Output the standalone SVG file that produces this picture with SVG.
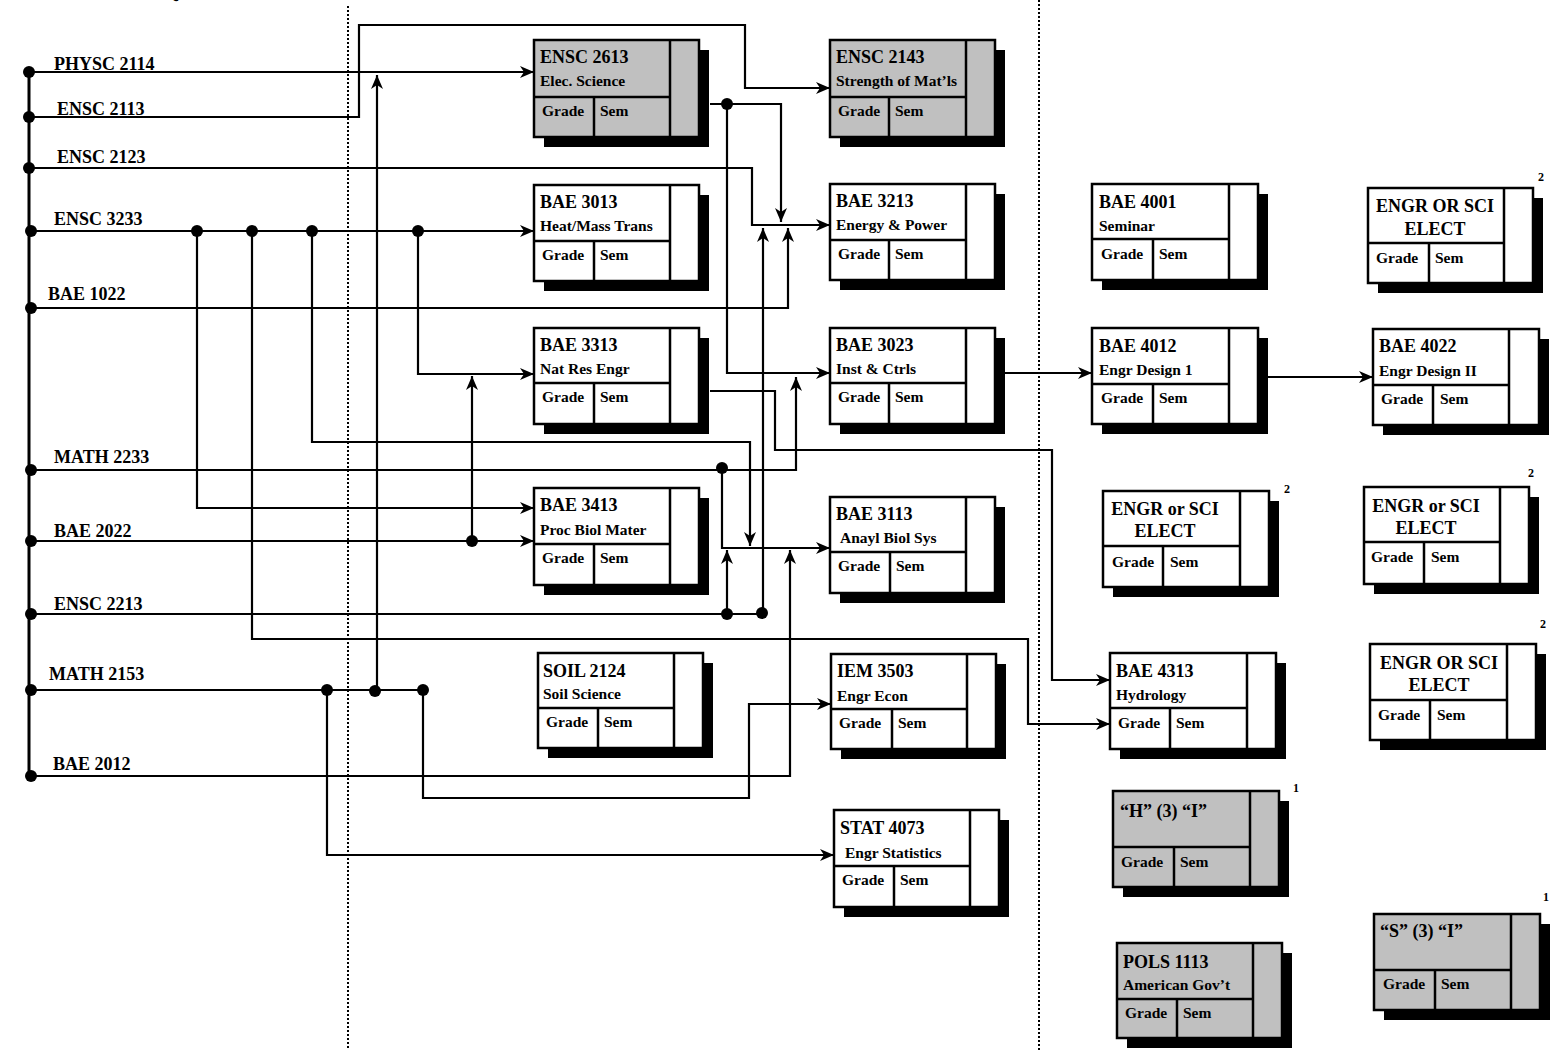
<svg xmlns="http://www.w3.org/2000/svg" width="1556" height="1050" viewBox="0 0 1556 1050">
<style>
.bg{fill:#fff}
.box{fill:#fff;stroke:#000;stroke-width:2.5}
.gray .box{fill:#c0c0c0}
.shadow{fill:#000}
.div{stroke:#000;stroke-width:2.5;fill:none}
.t{font-family:"Liberation Serif","Times New Roman",serif;font-weight:bold;font-size:18px;fill:#000}
.s{font-size:15.5px}
.m{text-anchor:middle}
.sup{font-size:12px}
.c{stroke:#000;stroke-width:2.2;fill:none}
.bus{stroke:#000;stroke-width:3;fill:none}
.dot{fill:#000}
.dotted{stroke:#000;stroke-width:2;stroke-dasharray:2,2;fill:none}
</style>
<defs>
<marker id="ah" viewBox="0 0 14 12" refX="14" refY="6" markerWidth="14" markerHeight="12" markerUnits="userSpaceOnUse" orient="auto">
<path d="M0,0 L14,6 L0,12 L4,6 Z" fill="#000"/>
</marker>
</defs>
<rect class="bg" x="0" y="0" width="1556" height="1050"/>
<text class="t" x="165" y="-2" font-size="24">Q</text>
<g id="dividers">
<path class="dotted" d="M348,6V1050"/>
<path class="dotted" d="M1039,0V1050"/>
</g>
<g id="labels">
<text class="t" x="54" y="70">PHYSC 2114</text>
<text class="t" x="57" y="115">ENSC 2113</text>
<text class="t" x="57" y="163">ENSC 2123</text>
<text class="t" x="54" y="225">ENSC 3233</text>
<text class="t" x="48" y="300">BAE 1022</text>
<text class="t" x="54" y="463">MATH 2233</text>
<text class="t" x="54" y="537">BAE 2022</text>
<text class="t" x="54" y="610">ENSC 2213</text>
<text class="t" x="49" y="680">MATH 2153</text>
<text class="t" x="53" y="770">BAE 2012</text>
</g>
<g id="connectors">
<path class="bus" d="M29,72V776"/>
<path class="c" marker-end="url(#ah)" d="M29,72H534"/>
<path class="c" marker-end="url(#ah)" d="M29,117H359V25H745V88H830"/>
<path class="c" marker-end="url(#ah)" d="M29,168H752V225H830"/>
<path class="c" marker-end="url(#ah)" d="M31,231H534"/>
<path class="c" marker-end="url(#ah)" d="M197,231V508H534"/>
<path class="c" marker-end="url(#ah)" d="M252,231V639H1028V724H1110"/>
<path class="c" marker-end="url(#ah)" d="M312,231V442H750V546"/>
<path class="c" marker-end="url(#ah)" d="M418,231V374H534"/>
<path class="c" marker-end="url(#ah)" d="M29,308H788V228"/>
<path class="c" marker-end="url(#ah)" d="M710,104H781V222"/>
<path class="c" marker-end="url(#ah)" d="M727,104V373H830"/>
<path class="c" marker-end="url(#ah)" d="M710,391H775V450H1052V680H1110"/>
<path class="c" marker-end="url(#ah)" d="M29,470H796V377"/>
<path class="c" marker-end="url(#ah)" d="M722,470V548H830"/>
<path class="c" marker-end="url(#ah)" d="M29,541H534"/>
<path class="c" marker-end="url(#ah)" d="M472,541V376"/>
<path class="c" marker-end="url(#ah)" d="M29,614H763V228"/>
<path class="c" marker-end="url(#ah)" d="M727,614V550"/>
<path class="c" d="M29,690H423"/>
<path class="c" marker-end="url(#ah)" d="M327,690V855H834"/>
<path class="c" marker-end="url(#ah)" d="M377,690V75"/>
<path class="c" marker-end="url(#ah)" d="M423,690V798H749V704H831"/>
<path class="c" marker-end="url(#ah)" d="M29,776H790V550"/>
<path class="c" marker-end="url(#ah)" d="M1005,373H1092"/>
<path class="c" marker-end="url(#ah)" d="M1268,377H1373"/>
<g class="dot">
<circle cx="29" cy="72" r="6"/><circle cx="29" cy="117" r="6"/><circle cx="29" cy="168" r="6"/>
<circle cx="31" cy="231" r="6"/><circle cx="31" cy="308" r="6"/><circle cx="31" cy="470" r="6"/>
<circle cx="31" cy="541" r="6"/><circle cx="31" cy="614" r="6"/><circle cx="31" cy="690" r="6"/>
<circle cx="31" cy="776" r="6"/>
<circle cx="197" cy="231" r="6"/><circle cx="252" cy="231" r="6"/><circle cx="312" cy="231" r="6"/><circle cx="418" cy="231" r="6"/>
<circle cx="727" cy="104" r="6"/><circle cx="722" cy="468" r="6"/><circle cx="472" cy="541" r="6"/>
<circle cx="727" cy="614" r="6"/><circle cx="762" cy="613" r="6"/>
<circle cx="327" cy="690" r="6"/><circle cx="375" cy="691" r="6"/><circle cx="423" cy="690" r="6"/>
</g>
</g>
<g id="ensc2613" class="node gray">
<rect class="shadow" x="544" y="50" width="165" height="97"/><rect class="box" x="534" y="40" width="165" height="97"/>
<path class="div" d="M670,40V137M534,97H670M594,97V137"/>
<text class="t" x="540" y="63">ENSC 2613</text><text class="t s" x="540" y="86">Elec. Science</text>
<text class="t s" x="542" y="116">Grade</text><text class="t s" x="600" y="116">Sem</text>
</g>
<g id="ensc2143" class="node gray">
<rect class="shadow" x="840" y="50" width="165" height="97"/><rect class="box" x="830" y="40" width="165" height="97"/>
<path class="div" d="M966,40V137M830,97H966M889,97V137"/>
<text class="t" x="836" y="63">ENSC 2143</text><text class="t s" x="836" y="86">Strength of Mat’ls</text>
<text class="t s" x="838" y="116">Grade</text><text class="t s" x="895" y="116">Sem</text>
</g>
<g id="bae3013" class="node">
<rect class="shadow" x="544" y="195" width="165" height="96"/><rect class="box" x="534" y="185" width="165" height="96"/>
<path class="div" d="M670,185V281M534,241H670M594,241V281"/>
<text class="t" x="540" y="208">BAE 3013</text><text class="t s" x="540" y="231">Heat/Mass Trans</text>
<text class="t s" x="542" y="260">Grade</text><text class="t s" x="600" y="260">Sem</text>
</g>
<g id="bae3213" class="node">
<rect class="shadow" x="840" y="194" width="165" height="96"/><rect class="box" x="830" y="184" width="165" height="96"/>
<path class="div" d="M966,184V280M830,240H966M889,240V280"/>
<text class="t" x="836" y="207">BAE 3213</text><text class="t s" x="836" y="230">Energy &amp; Power</text>
<text class="t s" x="838" y="259">Grade</text><text class="t s" x="895" y="259">Sem</text>
</g>
<g id="bae3313" class="node">
<rect class="shadow" x="544" y="338" width="165" height="96"/><rect class="box" x="534" y="328" width="165" height="96"/>
<path class="div" d="M670,328V424M534,383H670M594,383V424"/>
<text class="t" x="540" y="351">BAE 3313</text><text class="t s" x="540" y="374">Nat Res Engr</text>
<text class="t s" x="542" y="402">Grade</text><text class="t s" x="600" y="402">Sem</text>
</g>
<g id="bae3023" class="node">
<rect class="shadow" x="840" y="338" width="165" height="96"/><rect class="box" x="830" y="328" width="165" height="96"/>
<path class="div" d="M966,328V424M830,383H966M889,383V424"/>
<text class="t" x="836" y="351">BAE 3023</text><text class="t s" x="836" y="374">Inst &amp; Ctrls</text>
<text class="t s" x="838" y="402">Grade</text><text class="t s" x="895" y="402">Sem</text>
</g>
<g id="bae3413" class="node">
<rect class="shadow" x="544" y="498" width="165" height="97"/><rect class="box" x="534" y="488" width="165" height="97"/>
<path class="div" d="M670,488V585M534,544H670M594,544V585"/>
<text class="t" x="540" y="511">BAE 3413</text><text class="t s" x="540" y="535">Proc Biol Mater</text>
<text class="t s" x="542" y="563">Grade</text><text class="t s" x="600" y="563">Sem</text>
</g>
<g id="bae3113" class="node">
<rect class="shadow" x="840" y="507" width="165" height="96"/><rect class="box" x="830" y="497" width="165" height="96"/>
<path class="div" d="M966,497V593M830,552H966M890,552V593"/>
<text class="t" x="836" y="520">BAE 3113</text><text class="t s" x="840" y="543">Anayl Biol Sys</text>
<text class="t s" x="838" y="571">Grade</text><text class="t s" x="896" y="571">Sem</text>
</g>
<g id="soil2124" class="node">
<rect class="shadow" x="548" y="663" width="165" height="95"/><rect class="box" x="538" y="653" width="165" height="95"/>
<path class="div" d="M674,653V748M538,708H674M598,708V748"/>
<text class="t" x="543" y="677">SOIL 2124</text><text class="t s" x="543" y="699">Soil Science</text>
<text class="t s" x="546" y="727">Grade</text><text class="t s" x="604" y="727">Sem</text>
</g>
<g id="iem3503" class="node">
<rect class="shadow" x="841" y="664" width="165" height="95"/><rect class="box" x="831" y="654" width="165" height="95"/>
<path class="div" d="M967,654V749M831,709H967M892,709V749"/>
<text class="t" x="837" y="677">IEM 3503</text><text class="t s" x="837" y="701">Engr Econ</text>
<text class="t s" x="839" y="728">Grade</text><text class="t s" x="898" y="728">Sem</text>
</g>
<g id="stat4073" class="node">
<rect class="shadow" x="844" y="820" width="165" height="97"/><rect class="box" x="834" y="810" width="165" height="97"/>
<path class="div" d="M970,810V907M834,866H970M894,866V907"/>
<text class="t" x="840" y="834">STAT 4073</text><text class="t s" x="845" y="858">Engr Statistics</text>
<text class="t s" x="842" y="885">Grade</text><text class="t s" x="900" y="885">Sem</text>
</g>
<g id="bae4001" class="node">
<rect class="shadow" x="1102" y="194" width="166" height="96"/><rect class="box" x="1092" y="184" width="166" height="96"/>
<path class="div" d="M1229,184V280M1092,239H1229M1153,239V280"/>
<text class="t" x="1099" y="208">BAE 4001</text><text class="t s" x="1099" y="231">Seminar</text>
<text class="t s" x="1101" y="259">Grade</text><text class="t s" x="1159" y="259">Sem</text>
</g>
<g id="bae4012" class="node">
<rect class="shadow" x="1102" y="338" width="166" height="96"/><rect class="box" x="1092" y="328" width="166" height="96"/>
<path class="div" d="M1229,328V424M1092,384H1229M1153,384V424"/>
<text class="t" x="1099" y="352">BAE 4012</text><text class="t s" x="1099" y="375">Engr Design 1</text>
<text class="t s" x="1101" y="403">Grade</text><text class="t s" x="1159" y="403">Sem</text>
</g>
<g id="bae4313" class="node">
<rect class="shadow" x="1120" y="663" width="166" height="96"/><rect class="box" x="1110" y="653" width="166" height="96"/>
<path class="div" d="M1247,653V749M1110,708H1247M1170,708V749"/>
<text class="t" x="1116" y="677">BAE 4313</text><text class="t s" x="1116" y="700">Hydrology</text>
<text class="t s" x="1118" y="728">Grade</text><text class="t s" x="1176" y="728">Sem</text>
</g>
<g id="elect1" class="node">
<rect class="shadow" x="1378" y="198" width="165" height="95"/><rect class="box" x="1368" y="188" width="165" height="95"/>
<path class="div" d="M1504,188V283M1368,243H1504M1429,243V283"/>
<text class="t m" x="1435" y="212">ENGR OR SCI</text><text class="t m" x="1435" y="235">ELECT</text>
<text class="t s" x="1376" y="263">Grade</text><text class="t s" x="1435" y="263">Sem</text>
<text class="t sup" x="1538" y="181">2</text>
</g>
<g id="bae4022" class="node">
<rect class="shadow" x="1383" y="339" width="166" height="96"/><rect class="box" x="1373" y="329" width="166" height="96"/>
<path class="div" d="M1509,329V425M1373,385H1509M1433,385V425"/>
<text class="t" x="1379" y="352">BAE 4022</text><text class="t s" x="1379" y="376">Engr Design II</text>
<text class="t s" x="1381" y="404">Grade</text><text class="t s" x="1440" y="404">Sem</text>
</g>
<g id="elect2" class="node">
<rect class="shadow" x="1113" y="501" width="166" height="96"/><rect class="box" x="1103" y="491" width="166" height="96"/>
<path class="div" d="M1240,491V587M1103,546H1240M1163,546V587"/>
<text class="t m" x="1165" y="515">ENGR or SCI</text><text class="t m" x="1165" y="537">ELECT</text>
<text class="t s" x="1112" y="567">Grade</text><text class="t s" x="1170" y="567">Sem</text>
<text class="t sup" x="1284" y="493">2</text>
</g>
<g id="elect3" class="node">
<rect class="shadow" x="1374" y="497" width="165" height="97"/><rect class="box" x="1364" y="487" width="165" height="97"/>
<path class="div" d="M1500,487V584M1364,542H1500M1424,542V584"/>
<text class="t m" x="1426" y="512">ENGR or SCI</text><text class="t m" x="1426" y="534">ELECT</text>
<text class="t s" x="1371" y="562">Grade</text><text class="t s" x="1431" y="562">Sem</text>
<text class="t sup" x="1528" y="477">2</text>
</g>
<g id="elect4" class="node">
<rect class="shadow" x="1380" y="654" width="166" height="96"/><rect class="box" x="1370" y="644" width="166" height="96"/>
<path class="div" d="M1507,644V740M1370,700H1507M1430,700V740"/>
<text class="t m" x="1439" y="669">ENGR OR SCI</text><text class="t m" x="1439" y="691">ELECT</text>
<text class="t s" x="1378" y="720">Grade</text><text class="t s" x="1437" y="720">Sem</text>
<text class="t sup" x="1540" y="628">2</text>
</g>
<g id="h3i" class="node gray">
<rect class="shadow" x="1123" y="801" width="166" height="96"/><rect class="box" x="1113" y="791" width="166" height="96"/>
<path class="div" d="M1250,791V887M1113,847H1250M1174,847V887"/>
<text class="t" x="1120" y="817">“H” (3) “I”</text>
<text class="t s" x="1121" y="867">Grade</text><text class="t s" x="1180" y="867">Sem</text>
<text class="t sup" x="1293" y="792">1</text>
</g>
<g id="pols1113" class="node gray">
<rect class="shadow" x="1127" y="953" width="165" height="95"/><rect class="box" x="1117" y="943" width="165" height="95"/>
<path class="div" d="M1253,943V1038M1117,999H1253M1177,999V1038"/>
<text class="t" x="1123" y="968">POLS 1113</text><text class="t s" x="1123" y="990">American Gov’t</text>
<text class="t s" x="1125" y="1018">Grade</text><text class="t s" x="1183" y="1018">Sem</text>
</g>
<g id="s3i" class="node gray">
<rect class="shadow" x="1384" y="924" width="166" height="96"/><rect class="box" x="1374" y="914" width="166" height="96"/>
<path class="div" d="M1511,914V1010M1374,970H1511M1435,970V1010"/>
<text class="t" x="1380" y="937">“S” (3) “I”</text>
<text class="t s" x="1383" y="989">Grade</text><text class="t s" x="1441" y="989">Sem</text>
<text class="t sup" x="1543" y="901">1</text>
</g>
</svg>
